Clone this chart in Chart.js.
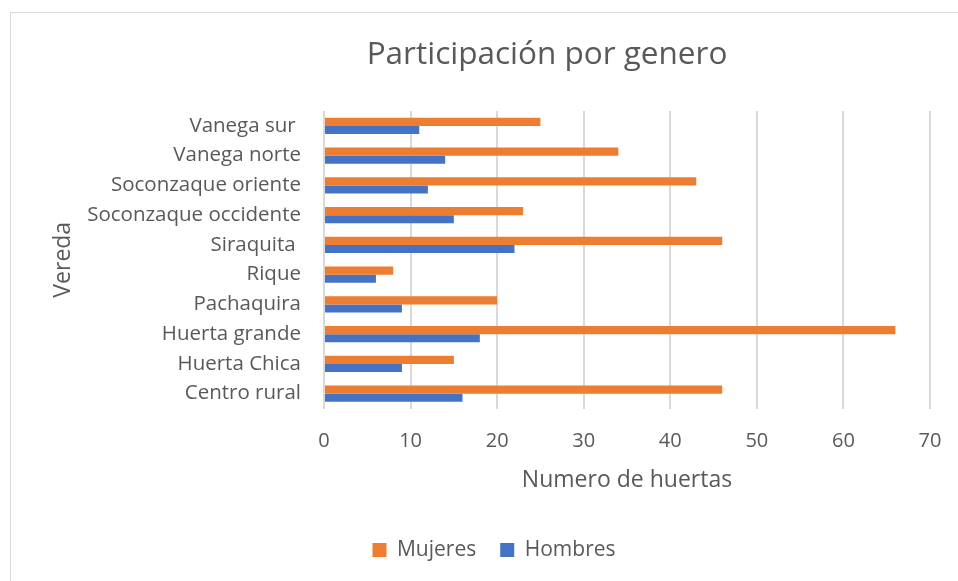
<!DOCTYPE html>
<html>
<head>
<meta charset="utf-8">
<title>Participación por genero</title>
<script src="https://cdn.jsdelivr.net/npm/chart.js@4/dist/chart.umd.min.js"></script>
<style>
  html, body { margin: 0; padding: 0; background: #fff; overflow: hidden; }
  #wrap { position: relative; width: 958px; height: 581px; }
  #frame { position: absolute; left: 10px; top: 12px; width: 1000px; height: 1000px; border: 1px solid #d9d9d9; box-sizing: border-box; }
  #chart { position: absolute; left: 0; top: 0; }
</style>
</head>
<body>
<div id="wrap">
  <div id="frame"></div>
  <canvas id="chart" width="958" height="581" aria-label="Participación por genero"></canvas>
</div>
<script>
// data, top row first
const veredas = ['Vanega sur ', 'Vanega norte', 'Soconzaque oriente', 'Soconzaque occidente', 'Siraquita ',
  'Rique', 'Pachaquira', 'Huerta grande', 'Huerta Chica', 'Centro rural'];
const mujeres = [25, 34, 43, 23, 46, 8, 20, 66, 15, 46];
const hombres = [11, 14, 12, 15, 22, 6, 9, 18, 9, 16];
const xTicks = [0, 10, 20, 30, 40, 50, 60, 70];
const chartTitle = 'Participación por genero';

const textColor = '#595959';
const gridColor = '#d9d9d9';
const fontFamily = '"Open Sans", "Noto Sans", sans-serif';

// the Excel title sits off-centre from the legend, so it is drawn by hand
const titlePlugin = {
  id: 'offsetTitle',
  afterDraw(chart) {
    const c = chart.ctx;
    c.save();
    c.fillStyle = textColor;
    c.font = '31.5px ' + fontFamily;
    c.textAlign = 'center';
    c.textBaseline = 'alphabetic';
    c.fillText(chartTitle, 547, 63.5);
    c.restore();
  }
};

const ctx = document.getElementById('chart');

new Chart(ctx, {
  type: 'bar',
  data: {
    labels: veredas,
    datasets: [
      {
        label: 'Mujeres',
        data: mujeres,
        backgroundColor: '#ED7D31',
        categoryPercentage: 0.54,
        barPercentage: 1,
      },
      {
        label: 'Hombres',
        data: hombres,
        backgroundColor: '#4472C4',
        categoryPercentage: 0.54,
        barPercentage: 1,
      },
    ]
  },
  plugins: [titlePlugin],
  options: {
    indexAxis: 'y',
    responsive: false,
    animation: false,
    devicePixelRatio: 1,
    layout: {
      padding: { top: 111, right: 28, bottom: 10.5, left: 58 },
    },
    plugins: {
      title: { display: false },
      legend: {
        position: 'bottom',
        labels: {
          color: textColor,
          font: { family: fontFamily, size: 21 },
          boxWidth: 14,
          boxHeight: 14,
          padding: 24,
        },
      },
      tooltip: { enabled: false },
    },
    scales: {
      x: {
        min: 0,
        max: 70,
        afterBuildTicks: (scale) => {
          scale.ticks = xTicks.map(v => ({ value: v }));
        },
        afterFit: (scale) => {
          scale.height = 107;
        },
        grid: {
          color: gridColor,
          lineWidth: 2,
          drawTicks: true,
          tickLength: 18,
          tickColor: 'rgba(0,0,0,0)',
        },
        border: { display: false },
        ticks: {
          color: textColor,
          font: { family: fontFamily, size: 20 },
          padding: 3,
        },
        title: {
          display: true,
          text: 'Numero de huertas',
          color: textColor,
          font: { family: fontFamily, size: 23 },
          padding: { top: 0, bottom: 21.3 },
        },
      },
      y: {
        afterFit: (scale) => {
          scale.width = 266;
        },
        grid: { display: false, drawTicks: false },
        border: { display: false },
        ticks: {
          color: textColor,
          font: { family: fontFamily, size: 20.5 },
          padding: 23,
        },
        title: {
          display: true,
          text: 'Vereda',
          color: textColor,
          font: { family: fontFamily, size: 23 },
          padding: { top: -8.8, bottom: 0 },
        },
      },
    },
  }
});
</script>
</body>
</html>
